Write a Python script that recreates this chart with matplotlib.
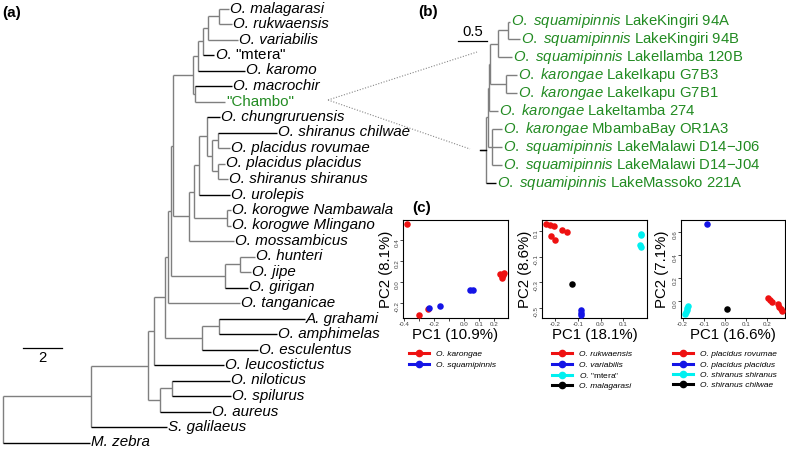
import re

import matplotlib

matplotlib.use("Agg")
import matplotlib.pyplot as plt
from matplotlib.lines import Line2D

W, H = 786, 453

plt.rcParams.update({
    "font.family": ["Liberation Sans", "DejaVu Sans"],
    "mathtext.fontset": "custom",
    "mathtext.rm": "Liberation Sans",
    "mathtext.it": "Liberation Sans:italic",
    "mathtext.bf": "Liberation Sans:bold",
})

GREEN = "#228b22"
GREY = "#7f7f7f"

# --------------------------------------------------------------------------- #
# (a) species tree (branch lengths, scale bar = 2)
CLADE_T1 = ("(((((mal:0.51,ruk:0.67):0.56,var:1.54):0.26,mte:0.56):0.26,kar:2.41):0.26,"
            "(mac:1.90,cha:1.54):0.10)")
CLADE_W = ("((((chu:0.67,((chi:3.03,rov:0.62):0.31,(pla:0.36,shi:0.51):0.31):0.26):0.41,"
           "uro:1.59):0.26,(nam:0.21,mli:0.21):1.69):0.26,mos:2.31)")
CLADE_HJG = "((hun:0.77,jip:0.56):0.77,gir:1.18)"
CLADE_E = "((gra:4.41,amp:2.97):0.87,esc:2.87)"
CLADE_N = "((nil:2.97,spi:3.00):0.62,aur:2.62)"
TREE_A = ("((((((((" + CLADE_T1 + ":1.03," + CLADE_W + ":0.82):0.10," + CLADE_HJG
          + ":2.77):0.15,tan:3.69):0.15," + CLADE_E + ":1.90):0.56,leu:3.59):0.31,"
          + CLADE_N + ":0.62):2.92,gal:3.90):4.51,zeb:4.46);")

MTERA = r'$\mathit{O.}\,$"mtera"'
LABELS_A = {
    "mal": "O. malagarasi", "ruk": "O. rukwaensis", "var": "O. variabilis",
    "mte": MTERA, "kar": "O. karomo", "mac": "O. macrochir",
    "cha": '"Chambo"', "chu": "O. chungruruensis", "chi": "O. shiranus chilwae",
    "rov": "O. placidus rovumae", "pla": "O. placidus placidus",
    "shi": "O. shiranus shiranus", "uro": "O. urolepis",
    "nam": "O. korogwe Nambawala", "mli": "O. korogwe Mlingano",
    "mos": "O. mossambicus", "hun": "O. hunteri", "jip": "O. jipe",
    "gir": "O. girigan", "tan": "O. tanganicae", "gra": "A. grahami",
    "amp": "O. amphimelas", "esc": "O. esculentus", "leu": "O. leucostictus",
    "nil": "O. niloticus", "spi": "O. spilurus", "aur": "O. aureus",
    "gal": "S. galilaeus", "zeb": "M. zebra",
}
BLACK_A = {"chu", "chi", "uro", "gir", "gra", "amp", "esc", "leu", "nil", "spi",
           "aur", "gal", "zeb", "mte", "kar", "mac"}
SCALE_A = 2

# (b) "Chambo" tree (scale bar = 0.5)
TREE_B = ("((((((k94a:0.03,k94b:0.21):0.17,i120b:0.24):0.14,(g7b3:0.19,g7b1:0.19):0.28)"
          ":0.02,t274:0.16):0.02,(or1a3:0.17,j06:0.17,j04:0.17):0.07):0.03,m221a:0.17):0.10;")
SPECIES_B = {
    "k94a": ("squamipinnis", "LakeKingiri 94A"),
    "k94b": ("squamipinnis", "LakeKingiri 94B"),
    "i120b": ("squamipinnis", "LakeIlamba 120B"),
    "g7b3": ("karongae", "LakeIkapu G7B3"),
    "g7b1": ("karongae", "LakeIkapu G7B1"),
    "t274": ("karongae", "LakeItamba 274"),
    "or1a3": ("karongae", "MbambaBay OR1A3"),
    "j06": ("squamipinnis", "LakeMalawi D14\u2212J06"),
    "j04": ("squamipinnis", "LakeMalawi D14\u2212J04"),
    "m221a": ("squamipinnis", "LakeMassoko 221A"),
}
SCALE_B = 0.5

# (c) PCA scores
P1_LABELS = ["O. karongae", "O. squamipinnis"]
P1_COLORS = ["#ee1111", "#1414e6"]
P1_X = [[-0.38, 0.240, 0.255, 0.265, 0.250, 0.260, -0.30, -0.24],
        [-0.233, -0.16, 0.040, 0.060]]
P1_Y = [[0.552, 0.075, 0.057, 0.086, 0.040, 0.070, -0.314, -0.257],
        [-0.248, -0.230, -0.076, -0.076]]
P1_XLABEL, P1_YLABEL = "PC1 (10.9%)", "PC2 (8.1%)"
P1_XTICKS = [-0.4, -0.3, -0.2, -0.1, 0.0, 0.1, 0.2]
P1_XTICKLABELS = ["-0.4", "", "-0.2", "", "0.0", "0.1", "0.2"]
P1_YTICKS = [-0.2, 0.0, 0.2, 0.4]

P2_LABELS = ["O. rukwaensis", "O. variabilis", MTERA, "O. malagarasi"]
P2_COLORS = ["#ee1111", "#1414e6", "#00f0f0", "black"]
P2_X = [[-0.240, -0.222, -0.205, -0.170, -0.148, -0.218, -0.200],
        [-0.088, -0.086, -0.084],
        [0.177, 0.178, 0.176, 0.178],
        [-0.126]]
P2_Y = [[0.155, 0.147, 0.139, 0.108, 0.092, 0.061, 0.030],
        [-0.52, -0.54, -0.56],
        [0.080, 0.070, -0.012, -0.022],
        [-0.314]]
P2_XLABEL, P2_YLABEL = "PC1 (18.1%)", "PC2 (8.6%)"
P2_XTICKS = [-0.2, -0.1, 0.0, 0.1]
P2_XTICKLABELS = ["-0.2", "-0.1", "0.0", "0.1"]
P2_YTICKS = [-0.5, -0.3, -0.1, 0.1]

P3_LABELS = ["O. placidus rovumae", "O. placidus placidus", "O. shiranus shiranus",
             "O. shiranus chilwae"]
P3_COLORS = ["#ee1111", "#1414e6", "#00f0f0", "black"]
P3_X = [[0.204, 0.212, 0.220, 0.251, 0.256, 0.263, 0.267],
        [-0.086],
        [-0.173, -0.177, -0.181, -0.185, -0.189],
        [0.008]]
P3_Y = [[0.023, 0.009, -0.006, -0.026, -0.050, -0.072, -0.084],
        [0.670],
        [-0.043, -0.060, -0.078, -0.095, -0.113],
        [-0.072]]
P3_XLABEL, P3_YLABEL = "PC1 (16.6%)", "PC2 (7.1%)"
P3_XTICKS = [-0.2, -0.1, 0.0, 0.1, 0.2]
P3_XTICKLABELS = ["-0.2", "-0.1", "0.0", "0.1", "0.2"]
P3_YTICKS = [0.0, 0.2, 0.4, 0.6]


# --------------------------------------------------------------------------- #
def parse_newick(text):
    s = text.strip().rstrip(";")
    pos = 0

    def node():
        nonlocal pos
        kids = []
        if s[pos] == "(":
            pos += 1
            while True:
                kids.append(node())
                ch = s[pos]
                pos += 1
                if ch == ")":
                    break
        name = re.match(r"[^:,()]*", s[pos:]).group(0)
        pos += len(name)
        length = 0.0
        if pos < len(s) and s[pos] == ":":
            m = re.match(r":([0-9.eE+-]+)", s[pos:])
            length = float(m.group(1))
            pos += len(m.group(0))
        return {"name": name, "len": length, "kids": kids}

    return node()


def layout(root):
    tips = []

    def walk(n, x):
        n["x"] = x
        if not n["kids"]:
            n["y"] = len(tips)
            tips.append(n)
            return
        for k in n["kids"]:
            walk(k, x + k["len"])
        n["y"] = (n["kids"][0]["y"] + n["kids"][-1]["y"]) / 2

    walk(root, root["len"])
    return tips


def draw_tree(ax, root, black=(), lw=1.0):
    def walk(n, px):
        col = "black" if n["name"] in black else GREY
        ax.plot([px, n["x"]], [n["y"], n["y"]], color=col, lw=lw,
                solid_capstyle="butt")
        if n["kids"]:
            ax.plot([n["x"], n["x"]], [n["kids"][0]["y"], n["kids"][-1]["y"]],
                    color=GREY, lw=lw, solid_capstyle="butt")
            for k in n["kids"]:
                walk(k, n["x"])

    walk(root, 0.0)


def place(ax, box, x0, sx, y0, sy):
    # box in figure pixels; data x -> x0 + sx*x, tip index -> y0 + sy*i
    left, top, right, bottom = box
    ax.set_position([left / W, 1 - bottom / H, (right - left) / W, (bottom - top) / H])
    ax.set_xlim((left - x0) / sx, (right - x0) / sx)
    ax.set_ylim((bottom - y0) / sy, (top - y0) / sy)
    ax.axis("off")


fig = plt.figure(figsize=(W / 100, H / 100), dpi=100)

# ---- (a) ----
ax_a = fig.add_axes([0, 0, 1, 1])
place(ax_a, (0, 0, 400, 453), x0=3, sx=19.5, y0=8.5, sy=15.5)
root_a = parse_newick(TREE_A)
tips_a = layout(root_a)
draw_tree(ax_a, root_a, black=BLACK_A)
for t in tips_a:
    lab = LABELS_A[t["name"]]
    plain = t["name"] in ("cha", "mte")
    ax_a.annotate(lab, (t["x"], t["y"]), xytext=(0.8, 0), textcoords="offset points",
                  ha="left", va="center", fontsize=10.9,
                  style="normal" if plain else "italic",
                  color=GREEN if t["name"] == "cha" else "black")
ax_a.plot([1.03, 1.03 + SCALE_A], [21.9, 21.9], color="black", lw=0.9)
ax_a.annotate(f"{SCALE_A}", (1.03 + SCALE_A / 2, 21.9), xytext=(0, -2),
              textcoords="offset points", ha="center", va="top", fontsize=10.7)

# ---- (b) ----
ax_b = fig.add_axes([0, 0, 1, 1])
place(ax_b, (440, 0, 786, 200), x0=480.2, sx=58, y0=21.5, sy=17.9)
root_b = parse_newick(TREE_B)
tips_b = layout(root_b)
draw_tree(ax_b, root_b, black={"m221a"})
ax_b.plot([0, root_b["x"]], [root_b["y"], root_b["y"]], color="black", lw=1.0)
for t in tips_b:
    sp, rest = SPECIES_B[t["name"]]
    ax_b.annotate(r"$\mathit{O.\ " + sp + "}$ " + rest, (t["x"], t["y"]),
                  xytext=(0.8, 0), textcoords="offset points", ha="left",
                  va="center", fontsize=10.7, color=GREEN)
sb_x = -0.383
ax_b.plot([sb_x, sb_x + SCALE_B], [1.09, 1.09], color="black", lw=0.9)
ax_b.annotate(f"{SCALE_B}", (sb_x + SCALE_B / 2, 1.09), xytext=(0, 1.5),
              textcoords="offset points", ha="center", va="bottom", fontsize=10.7)

# dotted zoom lines from "Chambo" to panel (b)
for end in [(477, 52), (470, 149)]:
    fig.add_artist(Line2D([328 / W, end[0] / W], [1 - 100 / H, 1 - end[1] / H],
                          transform=fig.transFigure, color="#888888", lw=0.8,
                          linestyle=(0, (1, 1.5))))

# ---- (c) ----
panels = [
    ((403, 220, 508, 318), (-0.407, 0.293), (-0.343, 0.590), P1_X, P1_Y, P1_COLORS,
     P1_LABELS, P1_XLABEL, P1_YLABEL, P1_XTICKS, P1_XTICKLABELS, P1_YTICKS, 0.057, -0.16),
    ((542, 220, 647, 318), (-0.258, 0.205), (-0.580, 0.186), P2_X, P2_Y, P2_COLORS,
     P2_LABELS, P2_XLABEL, P2_YLABEL, P2_XTICKS, P2_XTICKLABELS, P2_YTICKS, 0.095, -0.16),
    ((681, 220, 785, 318), (-0.2075, 0.283), (-0.148, 0.704), P3_X, P3_Y, P3_COLORS,
     P3_LABELS, P3_XLABEL, P3_YLABEL, P3_XTICKS, P3_XTICKLABELS, P3_YTICKS, -0.077, -0.18),
]
for (box, xl, yl, xs, ys, cols, labs, xlab, ylab, xt, xtl, yt, leg_x, ylab_x) in panels:
    l, t, r, b = box
    ax = fig.add_axes([l / W, 1 - b / H, (r - l) / W, (b - t) / H])
    for gx, gy, c in zip(xs, ys, cols):
        ax.scatter(gx, gy, s=22, color=c, linewidths=0, zorder=3)
    ax.set_xlim(*xl)
    ax.set_ylim(*yl)
    ax.set_xticks(xt)
    ax.set_xticklabels(xtl)
    ax.set_yticks(yt)
    ax.set_yticklabels([f"{v:.1f}" for v in yt])
    ax.tick_params(direction="out", length=2, width=0.5, pad=0.6, labelsize=4.5,
                   labelcolor="#444444")
    ax.tick_params(axis="y", labelrotation=90)
    for s in ax.spines.values():
        s.set_linewidth(0.8)
    ax.text(0.5, -0.17, xlab, transform=ax.transAxes, ha="center", va="center",
            fontsize=10.8)
    ax.text(ylab_x, 0.5, ylab, transform=ax.transAxes, ha="center", va="center",
            rotation=90, fontsize=10.8)
    handles = [Line2D([], [], color=c, marker="o", lw=2.2, markersize=4.5) for c in cols]
    leg = ax.legend(handles, labs, loc="upper left", bbox_to_anchor=(leg_x, -0.33),
                    frameon=False, fontsize=6, handlelength=2.4, handletextpad=0.8,
                    labelspacing=0.3, borderpad=0, borderaxespad=0)
    for txt in leg.get_texts():
        if "$" not in txt.get_text():
            txt.set_style("italic")

# panel letters
for lab, (px, py) in [("(a)", (2, 13)), ("(b)", (418, 12)), ("(c)", (412, 208))]:
    fig.text(px / W, 1 - py / H, lab, fontsize=11, fontweight="bold",
             ha="left", va="center")

fig.savefig("out.png", dpi=100)
